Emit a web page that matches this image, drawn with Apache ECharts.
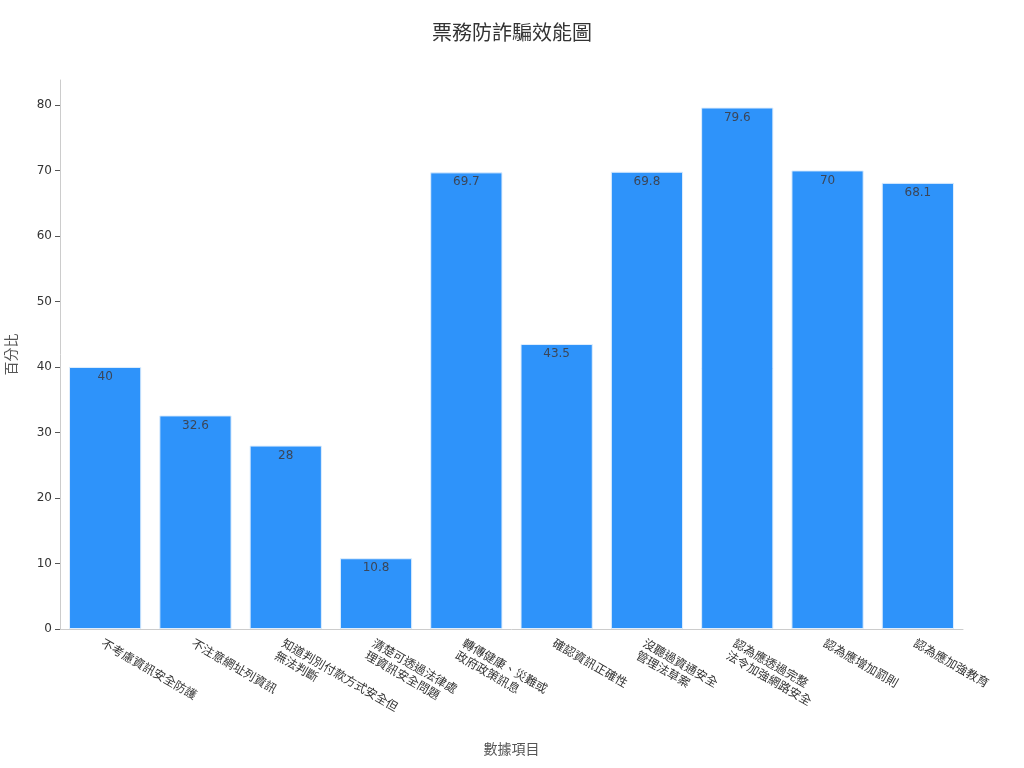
<!DOCTYPE html>
<html><head><meta charset="utf-8">
<script src="https://cdn.jsdelivr.net/npm/echarts@6/dist/echarts.min.js"></script>
<style>html,body{margin:0;padding:0;background:#fff}#c{width:1024px;height:768px}</style>
</head><body><div id="c"></div>
<script>
const categories = [
  '不考慮資訊安全防護',
  '不注意網址列資訊',
  '知道判別付款方式安全但\n無法判斷',
  '清楚可透過法律處\n理資訊安全問題',
  '轉傳健康、災難或\n政府政策訊息',
  '確認資訊正確性',
  '沒聽過資通安全\n管理法草案',
  '認為應透過完整\n法令加強網路安全',
  '認為應增加罰則',
  '認為應加強教育'
];
const values = [40, 32.6, 28, 10.8, 69.7, 43.5, 69.8, 79.6, 70, 68.1];
const yTicks = [0, 10, 20, 30, 40, 50, 60, 70, 80];

const cjk = '"DejaVu Sans", "Noto Sans CJK TC", sans-serif';
const chart = echarts.init(document.getElementById('c'));
chart.setOption({
  backgroundColor: '#fff',
  animation: false,
  title: {
    text: '票務防詐騙效能圖', left: 'center', top: 20,
    textStyle: { fontFamily: cjk, fontSize: 20, fontWeight: 'normal', color: '#333' }
  },
  grid: { left: 60, right: 61, top: 80, bottom: 139, containLabel: false, outerBoundsMode: 'none' },
  xAxis: {
    type: 'category', data: categories,
    name: '數據項目', nameLocation: 'middle', nameGap: 114,
    nameTextStyle: { fontFamily: cjk, fontSize: 14, color: '#555' },
    axisLine: { lineStyle: { color: '#ccc' } },
    axisTick: { alignWithLabel: true, length: 5, lineStyle: { color: '#555' } },
    axisLabel: { interval: 0, rotate: -30, margin: 8, fontFamily: cjk, fontSize: 12, color: '#333', lineHeight: 14, verticalAlign: 'top' }
  },
  yAxis: {
    type: 'value', min: 0, max: 83.8, interval: 10,
    name: '百分比', nameLocation: 'middle', nameGap: 41,
    nameTextStyle: { fontFamily: cjk, fontSize: 14, color: '#555' },
    axisLine: { show: true, lineStyle: { color: '#ccc' } },
    axisTick: { show: true, length: 5, customValues: yTicks, lineStyle: { color: '#555' } },
    axisLabel: { customValues: yTicks, fontFamily: cjk, fontSize: 12, color: '#333', margin: 8 },
    splitLine: { show: false }
  },
  series: [{
    type: 'bar', data: values, barWidth: '80%',
    itemStyle: { color: '#2E93FA', borderColor: '#dfeefd', borderWidth: 1 },
    label: { show: true, position: 'insideTop', distance: 4, fontFamily: cjk, fontSize: 12, color: '#3b4658' }
  }]
});
</script></body></html>
